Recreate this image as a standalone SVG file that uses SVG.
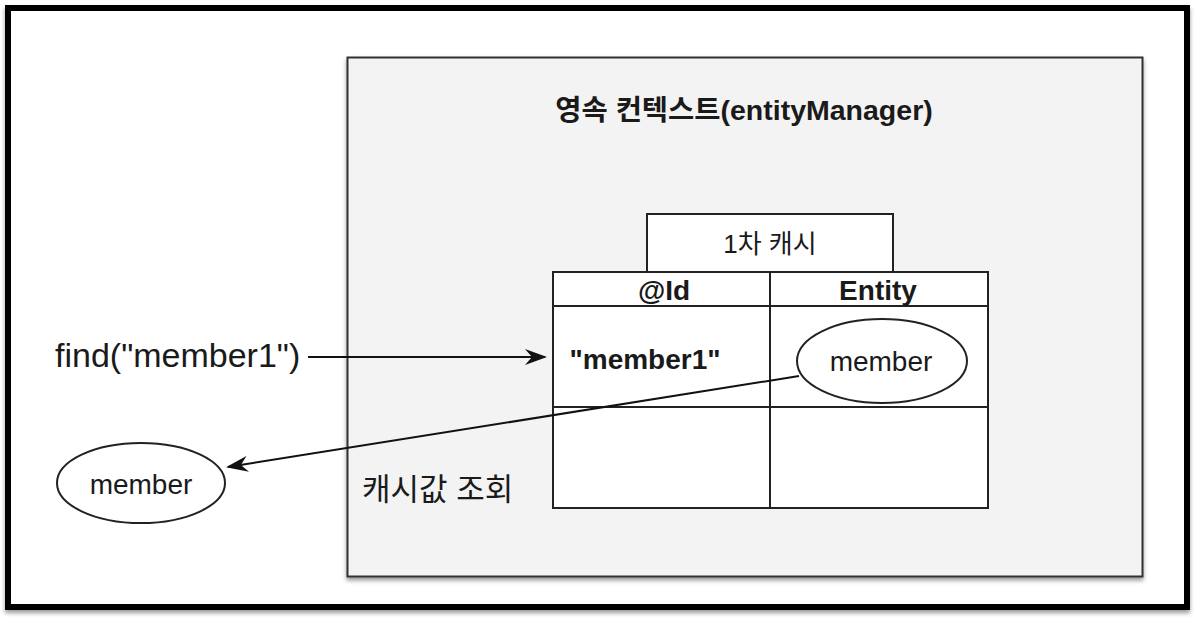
<svg xmlns="http://www.w3.org/2000/svg" width="1199" height="623" viewBox="0 0 1199 623">
<style>
text{font-family:"Liberation Sans","Noto Sans CJK KR",sans-serif;fill:#1a1a1a}
.b{font-weight:bold}
.cell{fill:#fff;stroke:#222;stroke-width:2}
.conn{stroke:#111;stroke-width:2;fill:none}
</style>
<defs>
<filter id="sh" x="-5%" y="-5%" width="110%" height="110%">
<feDropShadow dx="0" dy="3" stdDeviation="2" flood-color="#000" flood-opacity="0.4"/>
</filter>
<marker id="ah" viewBox="0 0 22 16" refX="20" refY="8" markerWidth="22" markerHeight="16" markerUnits="userSpaceOnUse" orient="auto">
<path d="M0,0 L22,8 L0,16 L7,8 Z" fill="#111"/>
</marker>
</defs>
<rect width="1199" height="623" fill="#fff"/>
<rect x="8" y="8" width="1179" height="599" fill="#fff" stroke="#000" stroke-width="6" filter="url(#sh)"/>
<g id="context">
<rect x="347.5" y="57.5" width="795" height="519" fill="#f3f3f3" stroke="#333" stroke-width="2" filter="url(#sh)"/>
<text x="744" y="120" font-size="28.5" text-anchor="middle" class="b">영속 컨텍스트(entityManager)</text>
</g>
<g id="cache-label">
<rect x="647" y="214" width="246" height="58" class="cell"/>
<text x="770" y="253" font-size="26" text-anchor="middle">1차 캐시</text>
</g>
<g id="cache-table">
<rect x="553" y="272" width="435" height="236" class="cell"/>
<line x1="553" y1="306" x2="988" y2="306" stroke="#222" stroke-width="2"/>
<line x1="553" y1="407" x2="988" y2="407" stroke="#222" stroke-width="2"/>
<line x1="770" y1="272" x2="770" y2="508" stroke="#222" stroke-width="2"/>
<text x="664" y="300" font-size="28" text-anchor="middle" class="b">@Id</text>
<text x="878" y="300" font-size="28" text-anchor="middle" class="b">Entity</text>
<text x="645" y="369" font-size="28" text-anchor="middle" class="b">"member1"</text>
</g>
<g id="cached-member">
<ellipse cx="882" cy="361" rx="85" ry="42" fill="#fff" stroke="#222" stroke-width="2"/>
<text x="881" y="371" font-size="28" text-anchor="middle">member</text>
</g>
<g id="find-call">
<text x="55" y="367" font-size="34">find("member1")</text>
</g>
<g id="result-member">
<ellipse cx="141" cy="483" rx="84" ry="40" fill="#fff" stroke="#222" stroke-width="2"/>
<text x="141" y="494" font-size="28" text-anchor="middle">member</text>
</g>
<g id="lookup-label">
<text x="362" y="500" font-size="31">캐시값 조회</text>
</g>
<g id="connectors">
<line x1="308" y1="357" x2="545" y2="357" class="conn" marker-end="url(#ah)"/>
<line x1="799" y1="376" x2="228" y2="467" class="conn" marker-end="url(#ah)"/>
</g>
</svg>
